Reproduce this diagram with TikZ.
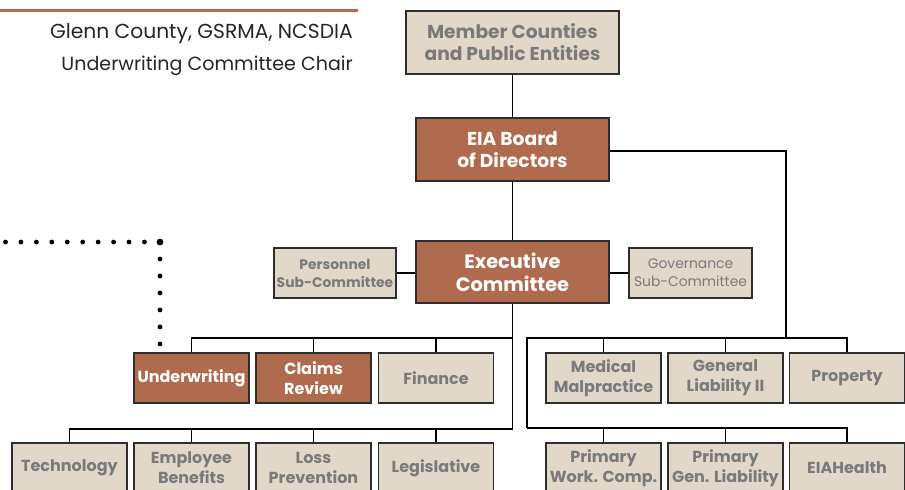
\documentclass[tikz,border=0pt]{standalone}
\usepackage{fontspec}
\setmainfont{Poppins}
\definecolor{brownbox}{RGB}{176,106,78}
\definecolor{beigebox}{RGB}{225,216,202}
\definecolor{greytext}{RGB}{122,122,122}
\definecolor{rustline}{RGB}{181,105,79}
\definecolor{boxline}{RGB}{45,45,45}
\begin{document}
\begin{tikzpicture}[x=0.75pt,y=-0.75pt,
  base/.style={draw=boxline,line width=1.4pt,align=center,inner sep=0pt,
    minimum width=#1*0.75pt},
  brownnode/.style={base=#1,fill=brownbox,text=white,font=\bfseries\fontsize{14}{16.5}\selectfont},
  bignode/.style={base=#1,fill=beigebox,text=greytext,font=\bfseries\fontsize{14}{16.5}\selectfont},
  smallbrown/.style={base=#1,fill=brownbox,text=white,font=\bfseries\fontsize{12}{15}\selectfont},
  smallbeige/.style={base=#1,fill=beigebox,text=greytext,font=\bfseries\fontsize{12}{15}\selectfont},
  subnode/.style={base=#1,fill=beigebox,text=greytext,font=\fontsize{10.4}{13.5}\selectfont},
  conn/.style={draw=black,line width=1.1pt},
  dotline/.style={draw=black,line width=3.6pt,line cap=round}
]
\useasboundingbox (0,0) rectangle (905,489);
\clip (0,0) rectangle (905,489);
\fill[white] (0,0) rectangle (905,489);

% header
\draw[rustline,line width=2.4pt] (0,10.5) -- (358,10.5);
\node[anchor=base east,font=\fontsize{15.2}{17}\selectfont,text=black!85,inner sep=0pt] (hdra) at (353,38) {Glenn County, GSRMA, NCSDIA};
\node[anchor=base east,font=\fontsize{14.3}{17}\selectfont,text=black!85,inner sep=0pt] (hdrb) at (353,70) {Underwriting Committee Chair};

% top boxes
\node[bignode=213,minimum height=63*0.75pt] (member) at (512.5,42.5) {Member Counties\\and Public Entities};
\node[brownnode=193,minimum height=63*0.75pt] (board) at (512.5,149.5) {EIA Board\\of Directors};
\node[brownnode=193,minimum height=62*0.75pt,font=\bfseries\fontsize{14.5}{17}\selectfont] (exec) at (512.5,272) {Executive\\Committee};
\node[subnode=122,minimum height=50*0.75pt,font=\bfseries\fontsize{10.4}{13.5}\selectfont] (personnel) at (335,273) {Personnel\\Sub-Committee};
\node[subnode=123,minimum height=50*0.75pt] (governance) at (690.5,273) {Governance\\Sub-Committee};

% row 2
\foreach \n/\x/\t/\s in {underwriting/191.5/Underwriting/smallbrown,
                         claims/313.5/Claims\\Review/smallbrown,
                         finance/436/Finance/smallbeige,
                         medical/603.5/Medical\\Malpractice/smallbeige,
                         general/725.5/General\\Liability II/smallbeige,
                         property/847/Property/smallbeige}{
  \node[\s=115,minimum height=50*0.75pt] (\n) at (\x,378) {\t};
}
% row 3
\foreach \n/\x/\t in {technology/69.5/Technology,
                      employee/191.5/Employee\\Benefits,
                      loss/313.5/Loss\\Prevention,
                      legislative/436/Legislative,
                      pwc/603.5/Primary\\Work. Comp.,
                      pgl/725.5/Primary\\Gen. Liability,
                      eiahealth/847/EIAHealth}{
  \node[smallbeige=115,minimum height=50*0.75pt] (\n) at (\x,468) {\t};
}

% junction coordinates
\coordinate (ltop) at (512.5,338);
\coordinate (lbot) at (512.5,429);
\coordinate (rtop) at (527,338);
\coordinate (rbot) at (527,428);
\coordinate (rjoin) at (786,338);

% connectors
\draw[conn] (member.south) -- (board.north);
\draw[conn] (board.south) -- (exec.north);
\draw[conn] (personnel.east) -- (personnel.east -| exec.west);
\draw[conn] (exec.east |- governance.west) -- (governance.west);
\draw[conn] (board.east |- 0,151) -| (rjoin);

\draw[conn] (exec.south) -- (lbot) -| (technology.north);
\draw[conn] (ltop) -| (underwriting.north);
\draw[conn] (claims.north) -- (claims.north |- ltop);
\draw[conn] (finance.north) -- (finance.north |- ltop);
\draw[conn] (employee.north) -- (employee.north |- lbot);
\draw[conn] (loss.north) -- (loss.north |- lbot);
\draw[conn] (legislative.north) -- (legislative.north |- lbot);

\draw[conn] (rbot) -- (rtop) -| (property.north);
\draw[conn] (medical.north) -- (medical.north |- rtop);
\draw[conn] (general.north) -- (general.north |- rtop);
\draw[conn] (rbot) -| (eiahealth.north);
\draw[conn] (pwc.north) -- (pwc.north |- rbot);
\draw[conn] (pgl.north) -- (pgl.north |- rbot);

% dotted link
\coordinate (dstart) at (5.5,242);
\coordinate (dcorner) at (160,242);
\coordinate (dend) at (160,344);
\draw[dotline,dash pattern=on 0pt off 11.58pt] (dstart) -- (dcorner);
\draw[dotline,dash pattern=on 0pt off 12.74pt] (dcorner) -- (dend);
\fill[black] (dcorner) circle (3.4);
\end{tikzpicture}
\end{document}
